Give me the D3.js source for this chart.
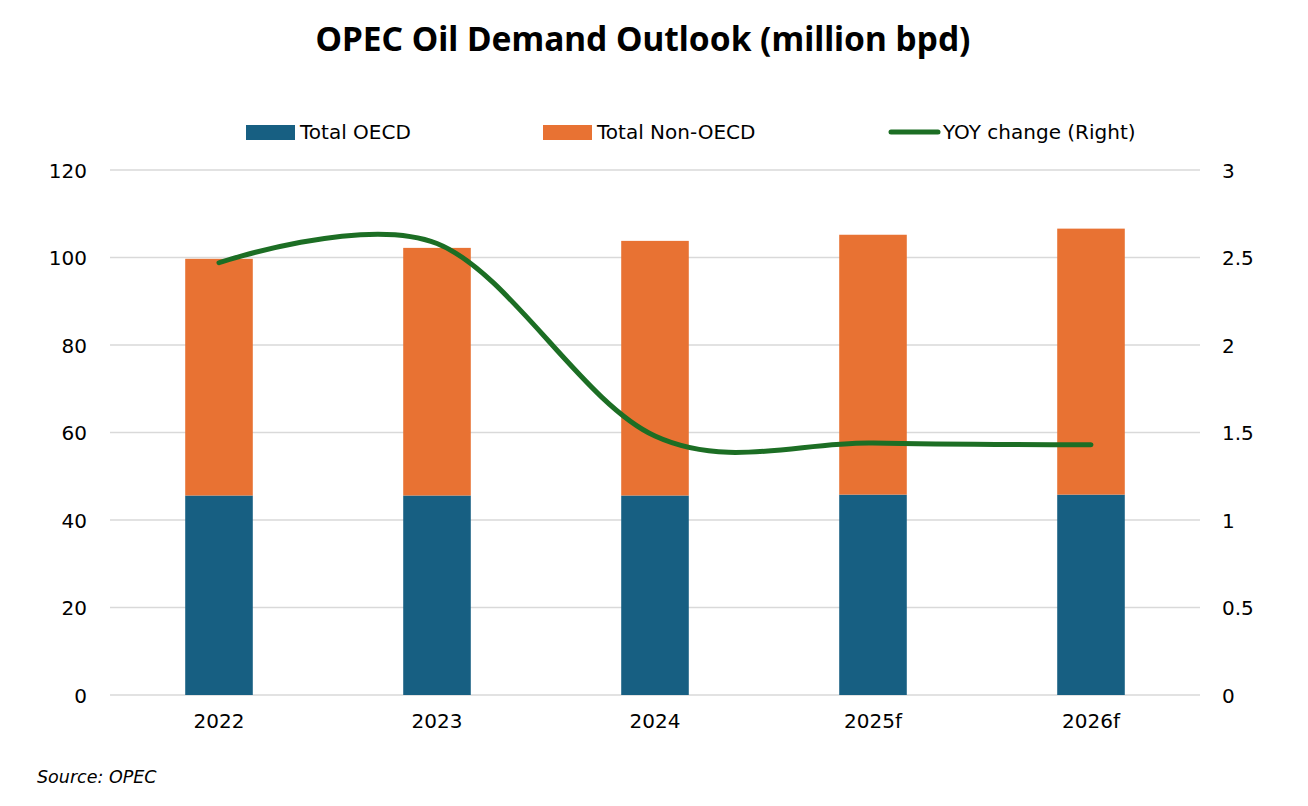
<!DOCTYPE html>
<html>
<head>
<meta charset="utf-8">
<script src="https://cdn.jsdelivr.net/npm/d3@7"></script>
<style>
  body { margin: 0; background: #fff; }
  text { font-family: "DejaVu Sans", "Noto Sans", sans-serif; fill: #000; }
  .title { font-family: "Noto Sans", "Open Sans", sans-serif; }
</style>
</head>
<body>
<div id="chart"></div>
<script>
// data
const years = ['2022', '2023', '2024', '2025f', '2026f'];
const oecd = [45.6, 45.6, 45.6, 45.8, 45.8];
const nonOecd = [54.1, 56.6, 58.2, 59.4, 60.8];
const yoy = [2.47, 2.58, 1.48, 1.44, 1.43];
const leftTicks = [0, 20, 40, 60, 80, 100, 120];
const rightTicks = [0, 0.5, 1, 1.5, 2, 2.5, 3];

const width = 1308, height = 806;
const margin = {top: 170, right: 108, bottom: 111, left: 110};

const svg = d3.select('#chart').append('svg')
  .attr('width', width)
  .attr('height', height);

const x = d3.scaleBand()
  .domain(years)
  .range([margin.left, width - margin.right])
  .paddingInner(0.69)
  .paddingOuter(0.345);

const y = d3.scaleLinear().domain([0, 120]).range([height - margin.bottom, margin.top]);
const y2 = d3.scaleLinear().domain([0, 3]).range([height - margin.bottom, margin.top]);

// gridlines
svg.append('g')
  .selectAll('line')
  .data(leftTicks)
  .join('line')
  .attr('x1', margin.left)
  .attr('x2', width - margin.right)
  .attr('y1', d => y(d))
  .attr('y2', d => y(d))
  .attr('stroke', '#d9d9d9')
  .attr('stroke-width', 1.5);

// left axis
const yAxis = svg.append('g')
  .attr('transform', `translate(${margin.left - 23},0)`)
  .call(d3.axisLeft(y).tickValues(leftTicks).tickSize(0).tickPadding(0));
yAxis.select('.domain').remove();
yAxis.selectAll('text').style('font-size', '20px').attr('dy', '0.35em');

// right axis
const y2Axis = svg.append('g')
  .attr('transform', `translate(${width - margin.right + 22},0)`)
  .call(d3.axisRight(y2).tickValues(rightTicks).tickSize(0).tickPadding(0).tickFormat(d3.format('')));
y2Axis.select('.domain').remove();
y2Axis.selectAll('text').style('font-size', '20px').attr('dy', '0.35em');

// x axis
const xAxis = svg.append('g')
  .attr('transform', `translate(0,${height - margin.bottom + 18})`)
  .call(d3.axisBottom(x).tickSize(0).tickPadding(0));
xAxis.select('.domain').remove();
xAxis.selectAll('text').style('font-size', '20px').attr('dy', '0.75em');

// stacked bars
const stackData = years.map((yr, i) => ({year: yr, oecd: oecd[i], nonOecd: nonOecd[i]}));
const series = d3.stack().keys(['oecd', 'nonOecd'])(stackData);
const colors = {oecd: '#175f82', nonOecd: '#e87233'};

svg.append('g')
  .selectAll('g')
  .data(series)
  .join('g')
  .attr('fill', d => colors[d.key])
  .selectAll('rect')
  .data(d => d)
  .join('rect')
  .attr('x', d => x(d.data.year))
  .attr('width', x.bandwidth())
  .attr('y', d => y(d[1]))
  .attr('height', d => y(d[0]) - y(d[1]));

// YOY line
const line = d3.line()
  .x((d, i) => x(years[i]) + x.bandwidth() / 2)
  .y(d => y2(d))
  .curve(d3.curveCatmullRom.alpha(0));

svg.append('path')
  .datum(yoy)
  .attr('d', line)
  .attr('fill', 'none')
  .attr('stroke', '#1c6e24')
  .attr('stroke-width', 5)
  .attr('stroke-linecap', 'round');

// title
svg.append('text')
  .attr('class', 'title')
  .attr('x', 643)
  .attr('y', 51)
  .attr('text-anchor', 'middle')
  .style('font-size', '33.5px')
  .style('font-weight', 'bold')
  .text('OPEC Oil Demand Outlook (million bpd)');

// legend
const legend = svg.append('g').attr('transform', 'translate(0,132)');
const items = [
  {label: 'Total OECD', type: 'rect', color: colors.oecd, x: 246},
  {label: 'Total Non-OECD', type: 'rect', color: colors.nonOecd, x: 543},
  {label: 'YOY change (Right)', type: 'line', color: '#1c6e24', x: 889}
];
items.forEach(it => {
  if (it.type === 'rect') {
    legend.append('rect')
      .attr('x', it.x).attr('y', -7)
      .attr('width', 49).attr('height', 15)
      .attr('fill', it.color);
  } else {
    legend.append('line')
      .attr('x1', it.x + 2).attr('x2', it.x + 49)
      .attr('y1', 0).attr('y2', 0)
      .attr('stroke', it.color)
      .attr('stroke-width', 5)
      .attr('stroke-linecap', 'round');
  }
  legend.append('text')
    .attr('x', it.x + 54)
    .attr('y', 0)
    .attr('dy', '0.35em')
    .style('font-size', '20px')
    .text(it.label);
});

// source
svg.append('text')
  .attr('x', 37)
  .attr('y', 783)
  .style('font-size', '17.5px')
  .style('font-style', 'italic')
  .text('Source: OPEC');
</script>
</body>
</html>
